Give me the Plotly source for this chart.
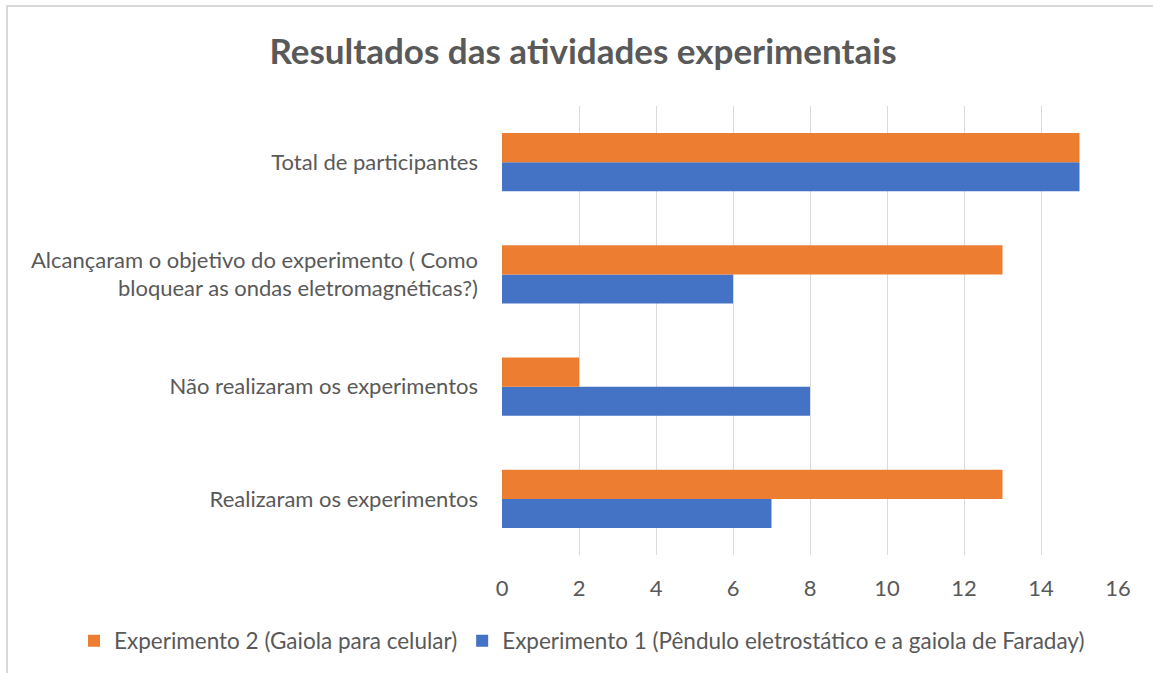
import plotly.graph_objects as go

categories = [
    "Realizaram os experimentos",
    "Não realizaram os experimentos",
    "Alcançaram o objetivo do experimento ( Como<br>bloquear as ondas eletromagnéticas?)",
    "Total de participantes",
]
exp1_name = "Experimento 1 (Pêndulo eletrostático e a gaiola de Faraday)"
exp2_name = "Experimento 2 (Gaiola para celular)"
exp1_values = [7, 8, 6, 15]
exp2_values = [13, 2, 13, 15]
x_ticks = [0, 2, 4, 6, 8, 10, 12, 14, 16]

FONT = "Lato, 'Open Sans', sans-serif"
GREY = "#595959"

fig = go.Figure()
fig.add_trace(go.Bar(y=categories, x=exp1_values, name=exp1_name, orientation="h",
                     marker=dict(color="#4472C4", line=dict(width=0))))
fig.add_trace(go.Bar(y=categories, x=exp2_values, name=exp2_name, orientation="h",
                     marker=dict(color="#ED7D31", line=dict(width=0))))

L, R, T, B = 502, 35, 106, 118
W, H = 1153, 673
dw = W - L - R
dh = H - T - B

def px(xp):
    return (xp - L) / dw

def py(yp):
    return (H - B - yp) / dh

fig.update_layout(
    width=W, height=H,
    margin=dict(l=L, r=R, t=T, b=B, autoexpand=False),
    paper_bgcolor="white", plot_bgcolor="white",
    barmode="group", bargap=0.48, bargroupgap=0,
    font=dict(family=FONT, color=GREY, size=22),
    title=dict(text="<b>Resultados das atividades experimentais</b>",
               x=px(583), xref="paper", xanchor="center",
               y=1 - 52 / H, yanchor="middle",
               font=dict(size=35, color=GREY, family=FONT)),
    xaxis=dict(range=[0, 16], tickvals=x_ticks, showgrid=True, gridcolor="#D9D9D9",
               gridwidth=1, zeroline=False, showline=False, ticks="",
               tickfont=dict(size=22, color=GREY), ticklabelstandoff=18),
    yaxis=dict(showgrid=False, zeroline=False, showline=False, ticks="",
               tickfont=dict(size=22, color=GREY), ticklabelstandoff=23),
    legend=dict(orientation="h", x=px(74), xanchor="left", y=py(641), yanchor="middle",
                traceorder="reversed", font=dict(size=22.5, color=GREY),
                itemwidth=30, bgcolor="rgba(0,0,0,0)"),
    showlegend=True,
)
fig.add_shape(type="rect", xref="paper", yref="paper",
              x0=px(7), x1=px(1170), y0=py(690), y1=py(6),
              line=dict(color="#D9D9D9", width=2), fillcolor="rgba(0,0,0,0)", layer="below")

fig.write_html("out.html", config={"displayModeBar": False},
               post_script="document.body.style.margin='0px';")
